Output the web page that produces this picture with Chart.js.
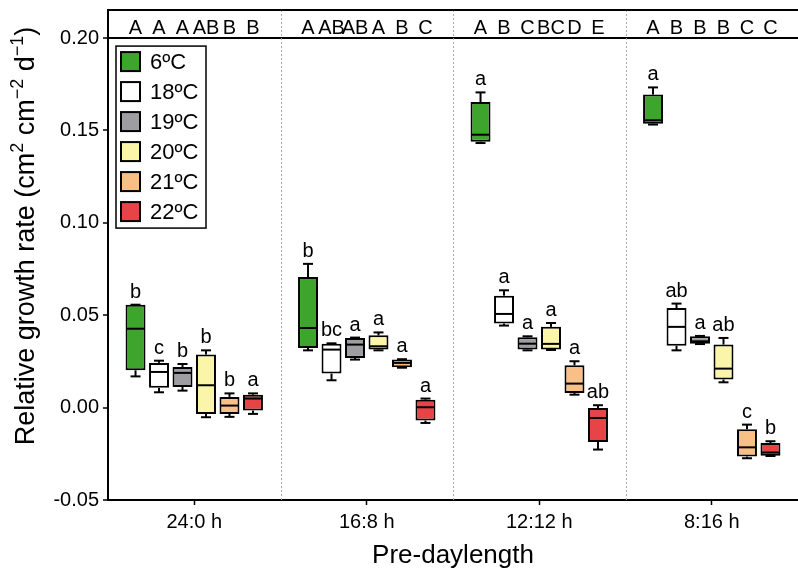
<!DOCTYPE html>
<html lang="en">
<head>
<meta charset="UTF-8">
<title>Relative growth rate by pre-daylength</title>
<script src="https://cdn.jsdelivr.net/npm/chart.js"></script>
<style>
  body { margin: 0; background: #fff; }
  .wrap { position: relative; width: 798px; height: 571px; }
</style>
</head>
<body>
<div class="wrap"><canvas id="rgrChart"></canvas></div>
<script>
const photoperiods = ['24:0 h', '16:8 h', '12:12 h', '8:16 h'];
const temps = ['6ºC', '18ºC', '19ºC', '20ºC', '21ºC', '22ºC'];
const yTicks = [-0.05, 0, 0.05, 0.10, 0.15, 0.20];

// rows = temperature, columns = photoperiod
const whiskerLow = [
  [0.0169, 0.0310, 0.1432, 0.1532],
  [0.0083, 0.0148, 0.0444, 0.0310],
  [0.0092, 0.0260, 0.0310, 0.0344],
  [-0.0052, 0.0310, 0.0312, 0.0137],
  [-0.0050, 0.0216, 0.0070, -0.0274],
  [-0.0034, -0.0083, -0.0227, -0.0262]
];
const q1 = [
  [0.0202, 0.0323, 0.1439, 0.1537],
  [0.0107, 0.0184, 0.0455, 0.0335],
  [0.0112, 0.0269, 0.0314, 0.0346],
  [-0.0034, 0.0314, 0.0314, 0.0152],
  [-0.0034, 0.0218, 0.0079, -0.0265],
  [-0.0016, -0.0070, -0.0186, -0.0260]
];
const median = [
  [0.0427, 0.0431, 0.1477, 0.1555],
  [0.0193, 0.0314, 0.0507, 0.0437],
  [0.0188, 0.0341, 0.0346, 0.0359],
  [0.0121, 0.0332, 0.0345, 0.0211],
  [0.0011, 0.0242, 0.0130, -0.0215],
  [0.0049, 0.0002, -0.0056, -0.0243]
];
const q3 = [
  [0.0557, 0.0707, 0.1654, 0.1694],
  [0.0242, 0.0346, 0.0606, 0.0539],
  [0.0220, 0.0377, 0.0381, 0.0386],
  [0.0287, 0.0391, 0.0437, 0.0341],
  [0.0058, 0.0260, 0.0229, -0.0117],
  [0.0070, 0.0043, -0.0002, -0.0192]
];
const whiskerHigh = [
  [0.0557, 0.0778, 0.1706, 0.1733],
  [0.0254, 0.0348, 0.0635, 0.0563],
  [0.0236, 0.0379, 0.0386, 0.0388],
  [0.0310, 0.0407, 0.0458, 0.0377],
  [0.0077, 0.0262, 0.0251, -0.0092],
  [0.0077, 0.0049, 0.0013, -0.0182]
];
// letters above each box (rows = temperature)
const lowerLetters = [
  ['b', 'b', 'a', 'a'],
  ['c', 'bc', 'a', 'ab'],
  ['b', 'a', 'a', 'a'],
  ['b', 'a', 'a', 'ab'],
  ['b', 'a', 'a', 'c'],
  ['a', 'a', 'ab', 'b']
];
// letters in the top strip (rows = photoperiod)
const upperLetters = [
  ['A', 'A', 'A', 'AB', 'B', 'B'],
  ['A', 'AB', 'AB', 'A', 'B', 'C'],
  ['A', 'B', 'C', 'BC', 'D', 'E'],
  ['A', 'B', 'B', 'B', 'C', 'C']
];

const colors = ['#3da52b', '#ffffff', '#9e9ea2', '#faf5a8', '#f8bf86', '#e84448'];
const FONT = '"Liberation Sans", Arial, sans-serif';

Chart.defaults.font.family = FONT;
Chart.defaults.color = '#000';

function line(ctx, x1, y1, x2, y2) {
  ctx.beginPath();
  ctx.moveTo(x1, y1);
  ctx.lineTo(x2, y2);
  ctx.stroke();
}

const boxPlugin = {
  id: 'boxExtras',
  beforeDatasetsDraw(chart) {
    const { ctx, chartArea, scales: { x } } = chart;
    ctx.save();
    ctx.strokeStyle = '#aaaaaa';
    ctx.lineWidth = 1;
    ctx.setLineDash([2, 2]);
    for (let i = 1; i < photoperiods.length; i++) {
      const px = Math.round((x.getPixelForValue(i - 1) + x.getPixelForValue(i)) / 2) + 0.5;
      line(ctx, px, chartArea.top, px, chartArea.bottom);
    }
    ctx.restore();
  },
  afterDatasetsDraw(chart) {
    const { ctx, chartArea, scales: { y } } = chart;
    ctx.save();
    ctx.strokeStyle = '#000';
    ctx.lineWidth = 2;
    ctx.fillStyle = '#000';
    ctx.textAlign = 'center';
    ctx.textBaseline = 'alphabetic';
    chart.data.datasets.forEach((ds, di) => {
      chart.getDatasetMeta(di).data.forEach((bar, i) => {
        const bx = bar.x, hw = bar.width / 2, cap = 5;
        const yLo = y.getPixelForValue(whiskerLow[di][i]);
        const yQ1 = y.getPixelForValue(q1[di][i]);
        const yMed = y.getPixelForValue(median[di][i]);
        const yQ3 = y.getPixelForValue(q3[di][i]);
        const yHi = y.getPixelForValue(whiskerHigh[di][i]);
        line(ctx, bx, yQ3, bx, yHi);
        line(ctx, bx - cap, yHi, bx + cap, yHi);
        line(ctx, bx, yQ1, bx, yLo);
        line(ctx, bx - cap, yLo, bx + cap, yLo);
        line(ctx, bx - hw + 1, yMed, bx + hw - 1, yMed);
        ctx.font = '20px ' + FONT;
        ctx.fillText(lowerLetters[di][i], bx, yHi - 7);
        // top strip letter
        ctx.font = '20px ' + FONT;
        ctx.fillText(upperLetters[i][di], bx, y.getPixelForValue(0.20) - 4);
      });
    });
    // frame top
    line(ctx, chartArea.left - 1, chartArea.top, chartArea.right, chartArea.top);
    ctx.restore();
  },
  afterDraw(chart) {
    const { ctx, chartArea, scales: { y } } = chart;
    ctx.save();
    // legend
    const lx = chartArea.left + 8, ly = y.getPixelForValue(0.20) + 8;
    ctx.fillStyle = '#fff';
    ctx.fillRect(lx, ly, 90, 182);
    ctx.strokeStyle = '#000';
    ctx.lineWidth = 1.5;
    ctx.strokeRect(lx, ly, 90, 182);
    ctx.font = '22px ' + FONT;
    ctx.textBaseline = 'middle';
    ctx.textAlign = 'left';
    temps.forEach((t, i) => {
      const sy = ly + 6 + i * 30;
      ctx.fillStyle = colors[i];
      ctx.fillRect(lx + 5, sy, 19, 19);
      ctx.lineWidth = 2;
      ctx.strokeRect(lx + 5, sy, 19, 19);
      ctx.fillStyle = '#000';
      ctx.fillText(t, lx + 34, sy + 11);
    });
    // y axis title with superscripts
    const parts = [['Relative growth rate (cm', 0], ['2', 1], [' cm', 0], ['\u22122', 1], [' d', 0], ['\u22121', 1], [')', 0]];
    const big = '27px ' + FONT, small = '18px ' + FONT;
    let total = 0;
    parts.forEach(p => { ctx.font = p[1] ? small : big; total += ctx.measureText(p[0]).width; });
    ctx.translate(34, 236);
    ctx.rotate(-Math.PI / 2);
    ctx.textBaseline = 'alphabetic';
    ctx.fillStyle = '#000';
    let cx = -total / 2;
    parts.forEach(p => {
      ctx.font = p[1] ? small : big;
      ctx.fillText(p[0], cx, p[1] ? -11 : 0);
      cx += ctx.measureText(p[0]).width;
    });
    ctx.restore();
  }
};

new Chart(document.getElementById('rgrChart'), {
  type: 'bar',
  data: {
    labels: photoperiods,
    datasets: temps.map((t, di) => ({
      label: t,
      data: photoperiods.map((p, i) => [q1[di][i], q3[di][i]]),
      backgroundColor: colors[di],
      borderColor: '#000',
      borderWidth: 2,
      borderSkipped: false,
      categoryPercentage: 0.817,
      barPercentage: 0.85
    }))
  },
  options: {
    responsive: true,
    maintainAspectRatio: false,
    animation: false,
    layout: { padding: { top: 10, right: 0, left: 0, bottom: 0 } },
    plugins: { legend: { display: false }, tooltip: { enabled: false } },
    scales: {
      x: {
        grid: { offset: false, drawOnChartArea: false, tickLength: 5, tickColor: '#000', tickWidth: 1.5 },
        border: { display: true, color: '#000', width: 2 },
        ticks: { font: { size: 20 }, padding: 5, color: '#000' },
        title: { display: true, text: 'Pre-daylength', font: { size: 26 }, padding: { top: 0, bottom: 0 }, color: '#000' },
        afterFit(s) { s.height = 71; s.paddingLeft = 0; s.paddingRight = 0; }
      },
      y: {
        min: -0.05,
        max: 0.2152,
        afterBuildTicks(s) { s.ticks = yTicks.map(v => ({ value: v })); },
        grid: {
          color: c => (c.tick && Math.abs(c.tick.value - 0.20) < 1e-9) ? '#000' : 'rgba(0,0,0,0)',
          lineWidth: 2,
          tickColor: '#000',
          tickWidth: 1.5,
          tickLength: 5
        },
        border: { display: true, color: '#000', width: 2 },
        ticks: { font: { size: 20 }, padding: 4, color: '#000', callback: v => v.toFixed(2) },
        afterFit(s) { s.width = 108; s.paddingTop = 0; s.paddingBottom = 0; }
      }
    }
  },
  plugins: [boxPlugin]
});
</script>
</body>
</html>
